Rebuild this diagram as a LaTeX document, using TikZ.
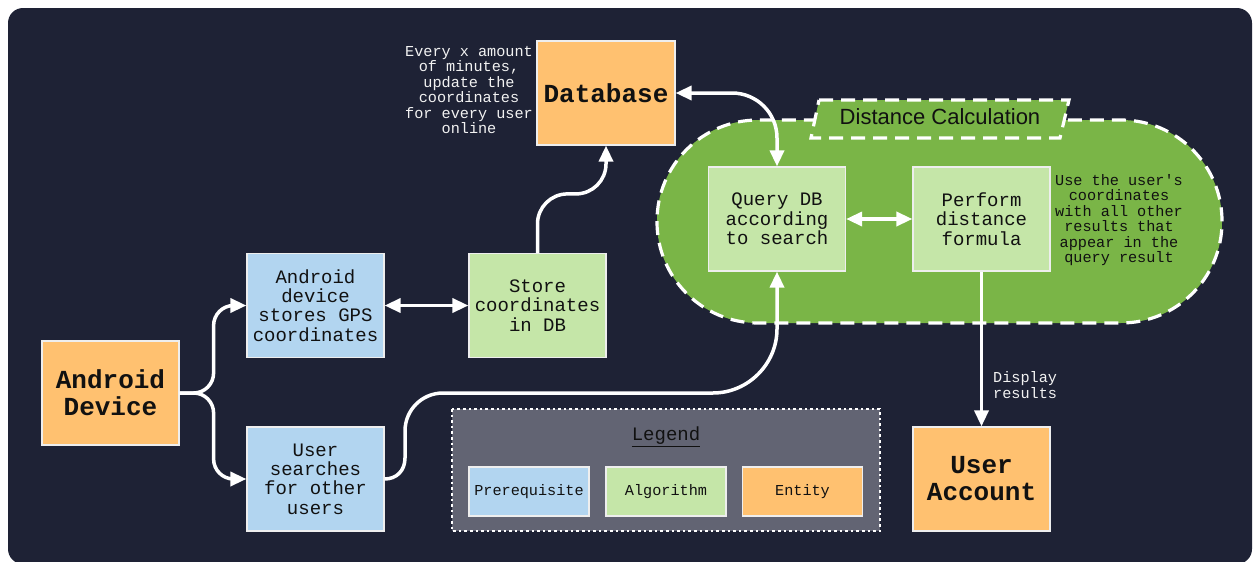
\documentclass[tikz,border=0pt]{standalone}
\usepackage{fontspec}
\newfontfamily\monof{Liberation Mono}
\newfontfamily\sansf{Liberation Sans}
\usetikzlibrary{arrows.meta}
\definecolor{bgc}{HTML}{1E2235}
\definecolor{enc}{HTML}{FFC170}
\definecolor{prc}{HTML}{B2D5F0}
\definecolor{alc}{HTML}{C5E6A8}
\definecolor{pillg}{HTML}{7AB547}
\definecolor{legc}{HTML}{626473}
\definecolor{boxline}{HTML}{EEEEEE}
\definecolor{txtc}{HTML}{111111}
\definecolor{notec}{HTML}{F2F2F2}
\newcommand\bxfont{\monof\fontsize{19}{19.3}\selectfont}
\newcommand\smfont{\monof\fontsize{15.2}{15.5}\selectfont}
\newcommand\bgfont{\monof\bfseries\fontsize{26}{27}\selectfont}
\tikzset{
  box/.style={draw=boxline, line width=1.2pt, minimum width=137pt, minimum height=104pt,
    inner sep=0pt, align=center, font=\bxfont, text=txtc},
  prereq/.style={box, fill=prc},
  algo/.style={box, fill=alc},
  entity/.style={box, fill=enc, font=\bgfont},
  legitem/.style={box, minimum width=120pt, minimum height=49pt, font=\smfont},
  arr/.style={draw=white, line width=3.5pt, -{Triangle[length=16pt,width=14pt]}},
  darr/.style={draw=white, line width=3.5pt, {Triangle[length=16pt,width=14pt]}-{Triangle[length=16pt,width=14pt]}},
  note/.style={text=notec, font=\smfont, align=center, inner sep=0pt},
  dashbord/.style={draw=white, line width=3.2pt, dash pattern=on 14pt off 8pt},
}
\begin{document}
\begin{tikzpicture}[x=1pt,y=-1pt]
\useasboundingbox (0,0) rectangle (1253,562);
\begin{scope}
\clip (0,0) rectangle (1253,562);
\fill[bgc, rounded corners=15pt] (8,8) rectangle (1252,564);
\end{scope}

% distance calculation container
\draw[dashbord, fill=pillg, rounded corners=101pt] (657,120) rectangle (1222,323);
\draw[dashbord, fill=pillg] (819,100) -- (1069,100) -- (1060,138) -- (811,138) -- cycle;
\node[font=\sansf\fontsize{22}{24}\selectfont, text=txtc, inner sep=0pt] (dclab) at (940,117) {Distance Calculation};

% legend
\draw[draw=white, fill=legc, line width=2.6pt, dash pattern=on 2.6pt off 3pt] (452,409) rectangle (880,531);
\node[font=\bxfont, text=txtc, inner sep=0pt] (legt) at (666,437) {\underline{Legend}};
\node[legitem, fill=prc] (lpre) at (529,491.5) {Prerequisite};
\node[legitem, fill=alc] (lalg) at (666,491.5) {Algorithm};
\node[legitem, fill=enc] (lent) at (802.5,491.5) {Entity};

% main nodes
\node[entity] (dev) at (110.5,393) {Android\\Device};
\node[prereq] (gps) at (315.5,305.5) {Android\\device\\stores GPS\\coordinates};
\node[algo] (store) at (537.5,305.5) {Store\\coordinates\\in DB};
\node[prereq] (srch) at (315.5,479) {User\\searches\\for other\\users};
\node[entity, minimum width=138pt] (db) at (606,93) {Database};
\node[algo] (query) at (777,219) {Query DB\\according\\to search};
\node[algo] (perf) at (981.5,219) {Perform\\distance\\formula};
\node[entity] (acct) at (981.5,479) {User\\Account};

% notes
\node[note] (upd) at (469,90) {Every x amount\\of minutes,\\update the\\coordinates\\for every user\\online};
\node[note, text=txtc] (use) at (1119,220) {Use the user's\\coordinates\\with all other\\results that\\appear in the\\query result};
\node[note, anchor=west, align=left] (disp) at (993,385) {Display\\results};

% connectors
\draw[arr, rounded corners=20pt] (dev.east) -- ++(34,0) |- (gps.west);
\draw[arr, rounded corners=20pt] (dev.east) -- ++(34,0) |- (srch.west);
\draw[darr] (gps.east) -- (store.west);
\draw[arr, rounded corners=30pt] (store.north) -- ++(0,-59) -| (db.south);
\draw[darr, rounded corners=45pt] (db.east) -| (query.north);
\draw[darr] (query.east) -- (perf.west);
\draw[arr] (perf.south) -- (acct.north);
\draw[arr] (srch.east) .. controls (396.6,479) and (405,470.6) .. (405,458)
  -- (405,431) .. controls (405,410) and (422,393) .. (443,393)
  -- (713,393) .. controls (748,393) and (777,364) .. (777,329)
  -- (query.south);
\end{tikzpicture}
\end{document}
